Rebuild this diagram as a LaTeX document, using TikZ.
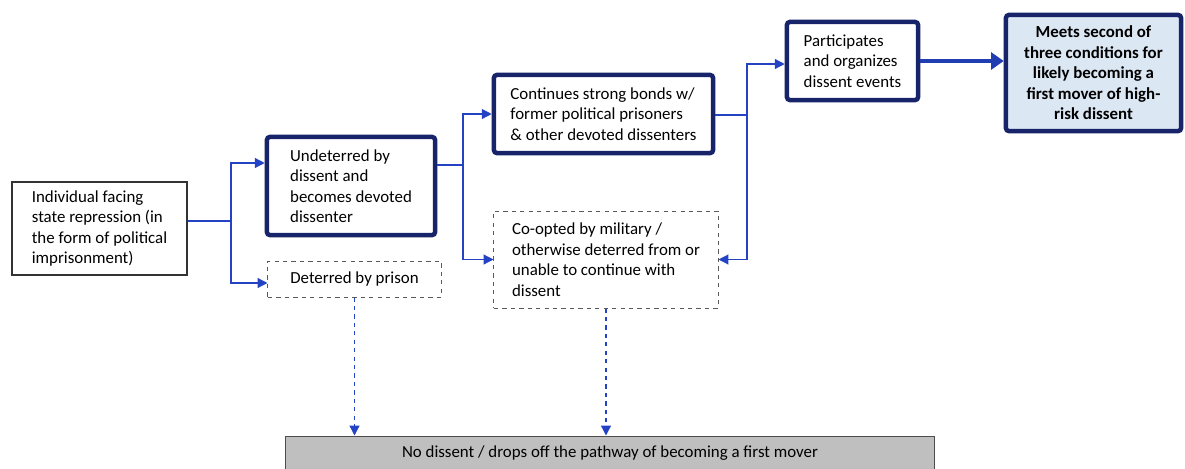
\documentclass[tikz,border=0pt]{standalone}
\usepackage{fontspec}
\setmainfont{Carlito}
\usepackage{tikz}
\usetikzlibrary{arrows.meta, positioning, calc}

\definecolor{navy}{HTML}{18246A}
\definecolor{linkblue}{HTML}{2343C4}
\definecolor{goalfill}{HTML}{DCE7F4}
\definecolor{dropfill}{HTML}{BFBFBF}

\begin{document}
\begin{tikzpicture}[
        x=0.025cm, y=-0.025cm,
        >={Triangle[length=7pt, width=7pt]},
        every node/.style={font=\fontsize{12}{14.6}\selectfont, align=left, inner sep=0pt},
        plainbox/.style={rectangle, draw=black!80, line width=0.8pt, fill=white},
        strongbox/.style={rectangle, draw=navy, line width=3.2pt, rounded corners=2pt, fill=white},
        dashbox/.style={rectangle, draw=black!65, dashed, line width=0.7pt, fill=white},
        goalbox/.style={strongbox, fill=goalfill, align=center, font=\fontsize{12}{14.6}\selectfont\bfseries},
        dropbox/.style={rectangle, draw=black!70, line width=0.7pt, fill=dropfill, align=center},
        link/.style={draw=linkblue, line width=0.9pt},
        droplink/.style={link, dashed, ->}
    ]
        \useasboundingbox (0,0) rectangle (1185,468);

        % boxes
        \node[plainbox, minimum width=4.375cm, minimum height=2.325cm] (indiv) at (99.5,228.5)
            {Individual facing\\state repression (in\\the form of political\\imprisonment)};
        \node[strongbox, minimum width=4.2cm, minimum height=2.45cm] (undet) at (351,186)
            {Undeterred by\\dissent and\\becomes devoted\\dissenter};
        \node[dashbox, minimum width=4.325cm, minimum height=0.9cm] (deterred) at (354.5,279)
            {Deterred by prison};
        \node[strongbox, minimum width=5.475cm, minimum height=1.95cm] (bonds) at (603.5,114)
            {Continues strong bonds w/\\former political prisoners\\\& other devoted dissenters};
        \node[dashbox, minimum width=5.6cm, minimum height=2.425cm] (coopted) at (606,259.5)
            {Co-opted by military /\\otherwise deterred from or\\unable to continue with\\dissent};
        \node[strongbox, minimum width=3.275cm, minimum height=1.95cm] (partic) at (852.5,61)
            {Participates\\and organizes\\dissent events};
        \node[goalbox, minimum width=4.375cm, minimum height=2.9cm] (goal) at (1093.5,73)
            {Meets second of\\three conditions for\\likely becoming a\\first mover of high-\\risk dissent};
        \node[dropbox, minimum width=16.2cm, minimum height=0.85cm] (nodiss) at (610,453)
            {No dissent / drops off the pathway of becoming a first mover};

        % forks
        \coordinate (fork1) at (231,221);
        \coordinate (fork2) at (463,165);
        \coordinate (fork3) at (747,115);

        \draw[link] (indiv.east |- fork1) -- (fork1);
        \draw[link, ->] (fork1) |- ($(undet.west)+(0,-23)$);
        \draw[link, ->] (fork1) |- ($(deterred.west)+(0,4)$);

        \draw[link] (undet.east |- fork2) -- (fork2);
        \draw[link, ->] (fork2) |- (bonds.west);
        \draw[link, ->] (fork2) |- (coopted.west);

        \draw[link] (bonds.east |- fork3) -- (fork3);
        \draw[link, ->] (fork3) |- ($(partic.west)+(0,3)$);
        \draw[link, ->] (fork3) |- (coopted.east);

        \draw[draw=linkblue!80!navy, line width=3.2pt, -{Triangle[length=9pt, width=12pt]}]
            (partic.east) -- (partic.east -| goal.west);

        \draw[droplink] (deterred.south) -- (deterred.south |- nodiss.north);
        \draw[droplink] (coopted.south) -- (coopted.south |- nodiss.north);
    \end{tikzpicture}
\end{document}
